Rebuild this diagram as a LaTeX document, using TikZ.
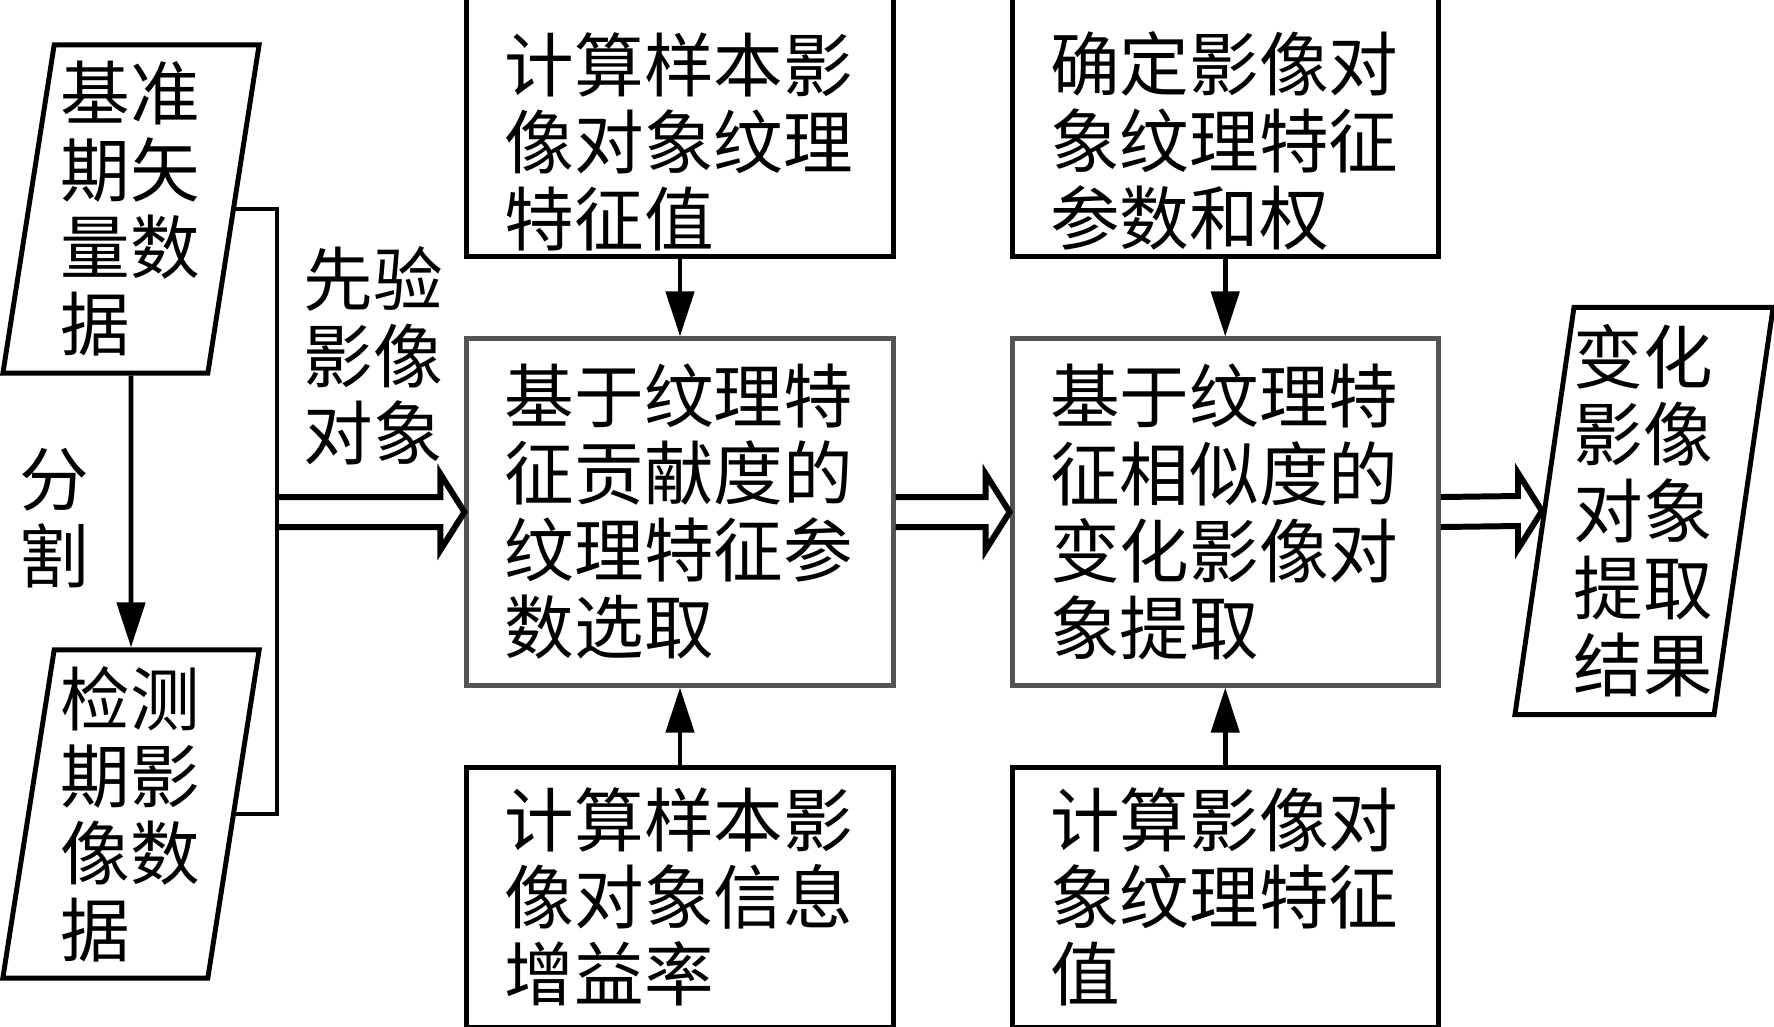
\documentclass[tikz,border=0pt]{standalone}
\usepackage{fontspec}
\setmainfont{Noto Sans CJK SC}
\usetikzlibrary{arrows.meta,positioning,shapes.geometric,calc}

\begin{document}
\begin{tikzpicture}[x=0.01cm, y=-0.01cm, node distance=0.77cm,
  font=\fontsize{19.8}{21.9}\selectfont,
  box/.style={draw, line width=1.4pt, minimum width=4.26cm, minimum height=2.6cm, inner sep=0pt, text width=3.5cm, align=left},
  topbox/.style={box, execute at begin node={\rule{0pt}{25pt}}},
  core/.style={box, draw=black!67, minimum height=3.46cm},
  data/.style={trapezium, trapezium left angle=81, trapezium right angle=99, trapezium stretches=true, draw, line width=1.4pt, minimum width=2.57cm, minimum height=3.28cm, inner sep=0pt, text width=1.4cm, align=left},
  flow/.style={line width=1.3pt, -{Triangle[length=0.45cm, width=0.28cm]}},
  hollow/.style={line width=1.7pt, to path={($(\tikztostart)+(0,-15)$) -- ($(\tikztotarget)+(-24,-15)$) -- ($(\tikztotarget)+(-24,-38)$) -- (\tikztotarget) -- ($(\tikztotarget)+(-24,38)$) -- ($(\tikztotarget)+(-24,15)$) -- ($(\tikztostart)+(0,15)$)}}]
  \useasboundingbox (0,0) rectangle (1774,1026);
  % input data
  \node[data] (base) at (131,209) {基准\\期矢\\量数\\据};
  \node[data] (detect) at (131,814) {检测\\期影\\像数\\据};
  \node[align=left] (seg) at (54,518) {分\\割};
  \node[align=left] (prior) at (373,356) {先验\\影像\\对象};
  \coordinate (bus) at (277,512);
  % processing chain
  \node[core] (select) at (680,512) {基于纹理特\\征贡献度的\\纹理特征参\\数选取};
  \node[core, right=1.14cm of select] (extract) {基于纹理特\\征相似度的\\变化影像对\\象提取};
  \node[topbox, above=of select] (sampval) {计算样本影\\像对象纹理\\特征值};
  \node[box, below=of select] (gain) {计算样本影\\像对象信息\\增益率};
  \node[topbox, above=of extract] (weight) {确定影像对\\象纹理特征\\参数和权};
  \node[box, below=of extract] (objval) {计算影像对\\象纹理特征\\值};
  \node[data, minimum height=4.07cm, minimum width=2.55cm] (result) at (1644,511) {变化\\影像\\对象\\提取\\结果};
  % connectors
  \draw[flow] (base) -- (detect);
  \draw[line width=1.4pt] (base.east) -| (bus) |- (detect.east);
  \draw[hollow] (bus) to (select.west);
  \draw[hollow] (select.east) to (extract.west);
  \draw[hollow] (extract.east) to (result.west);
  \draw[flow] (sampval) -- (select);
  \draw[flow] (gain) -- (select);
  \draw[flow] (weight) -- (extract);
  \draw[flow] (objval) -- (extract);
\end{tikzpicture}
\end{document}
